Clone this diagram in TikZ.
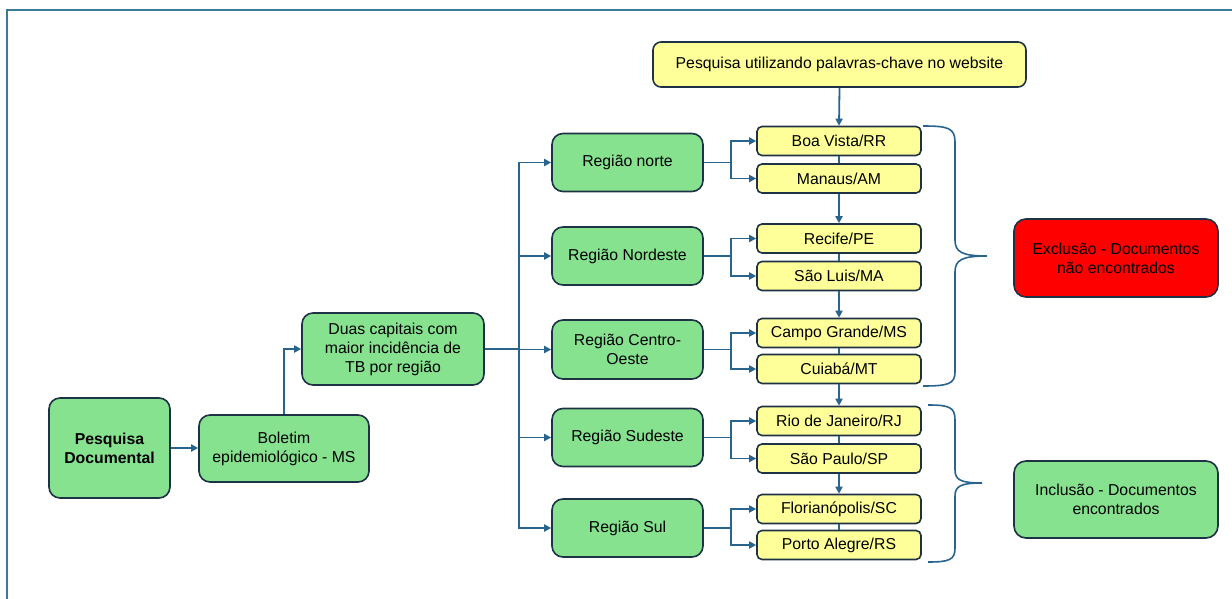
\documentclass[tikz,border=0pt]{standalone}
\usepackage{fontspec}
\setmainfont{Liberation Sans}
\usetikzlibrary{arrows.meta}
\definecolor{gfill}{RGB}{134,226,142}
\definecolor{yfill}{RGB}{255,255,153}
\definecolor{bord}{RGB}{30,50,70}
\definecolor{conncol}{RGB}{40,100,140}
\definecolor{framecol}{RGB}{60,122,148}
\begin{document}
\begin{tikzpicture}[x=1pt,y=-1pt,
 box/.style={draw=bord, line width=1.6pt, align=center, inner sep=0pt, font=\fontsize{15.8}{19}\selectfont, text=black},
 gbox/.style={box, fill=gfill, rounded corners=11pt},
 ybox/.style={box, fill=yfill, rounded corners=5pt, minimum width=164pt, minimum height=29pt},
 rbox/.style={gbox, minimum width=151pt, minimum height=58pt},
 ln/.style={draw=conncol, line width=1.8pt},
 arr/.style={ln, -{Triangle[length=7pt,width=7pt]}},
 brace/.style={draw=conncol, line width=1.6pt},
]
\useasboundingbox (0,0) rectangle (1232,599);
\draw[framecol, line width=2pt] (7,599) -- (7,10) -- (1232,10);

% left part
\node[gbox, minimum width=121pt, minimum height=100pt, font=\fontsize{15.8}{19}\selectfont\bfseries] (pd) at (109.5,448) {Pesquisa\\Documental};
\node[gbox, minimum width=170pt, minimum height=67pt] (bol) at (284,448.5) {Boletim\\epidemiológico - MS};
\node[gbox, minimum width=182pt, minimum height=72pt] (duas) at (393,349) {Duas capitais com\\maior incidência de\\TB por região};

% regions
\node[rbox] (norte) at (627.5,162.5) {Região norte};
\node[rbox] (nord) at (627.5,256) {Região Nordeste};
\node[rbox, minimum height=59pt] (cent) at (627.5,349.5) {Região Centro-\\Oeste};
\node[rbox] (sude) at (627.5,437.5) {Região Sudeste};
\node[rbox] (sul) at (627.5,528) {Região Sul};

% top
\node[box, fill=yfill, rounded corners=8pt, minimum width=373pt, minimum height=45pt] (top) at (839.5,64.5) {Pesquisa utilizando palavras-chave no website};

% cities
\node[ybox] (boa) at (839,141) {Boa Vista/RR};
\node[ybox] (man) at (839,178.5) {Manaus/AM};
\node[ybox] (rec) at (839,238.5) {Recife/PE};
\node[ybox] (slu) at (839,276) {São Luis/MA};
\node[ybox] (cgr) at (839,333) {Campo Grande/MS};
\node[ybox] (cui) at (839,369) {Cuiabá/MT};
\node[ybox] (rio) at (839,421) {Rio de Janeiro/RJ};
\node[ybox] (sp) at (839,458.5) {São Paulo/SP};
\node[ybox] (flo) at (839,509) {Florianópolis/SC};
\node[ybox] (poa) at (839,545) {Porto Alegre/RS};

% outcome boxes
\node[box, fill=red, rounded corners=12pt, minimum width=204pt, minimum height=78pt] (exc) at (1116,258) {Exclusão - Documentos\\não encontrados};
\node[gbox, rounded corners=12pt, minimum width=204pt, minimum height=77pt] (inc) at (1116,499.5) {Inclusão - Documentos\\encontrados};

% connectors left
\draw[arr] (pd.east) -- (pd.east -| bol.west);
\draw[arr] (bol.north) |- (duas.west);
\draw[ln] (duas.east) -- ++(34,0) coordinate (tr);
\draw[arr] (tr) |- (norte.west);
\draw[arr] (tr) |- (nord.west);
\draw[arr] (tr) |- (cent.west);
\draw[arr] (tr) |- (sude.west);
\draw[arr] (tr) |- (sul.west);

% regions to cities
\foreach \r/\a/\b in {norte/boa/man, nord/rec/slu, cent/cgr/cui, sude/rio/sp, sul/flo/poa}{
  \draw[ln] (\r.east) -- ++(27,0) coordinate (br);
  \draw[arr] (br) |- (\a.west);
  \draw[arr] (br) |- (\b.west);
}

% vertical chain
\draw[arr] (top.south) -- (boa.north);
\draw[ln] (boa.south) -- (man.north);
\draw[arr] (man.south) -- (rec.north);
\draw[ln] (rec.south) -- (slu.north);
\draw[arr] (slu.south) -- (cgr.north);
\draw[ln] (cgr.south) -- (cui.north);
\draw[arr] (cui.south) -- (rio.north);
\draw[ln] (rio.south) -- (sp.north);
\draw[arr] (sp.south) -- (flo.north);
\draw[ln] (flo.south) -- (poa.north);

% braces
\draw[brace] (923,126) .. controls (948,126) and (955,128) .. (955,142) -- (955,240)
  .. controls (955,252) and (962,256) .. (987,256)
  .. controls (962,256) and (955,260) .. (955,272) -- (955,372)
  .. controls (955,384) and (948,386) .. (923,386);
\draw[brace] (928,405) .. controls (949,405) and (955,407) .. (955,420) -- (955,470)
  .. controls (955,480) and (961,483) .. (982,483)
  .. controls (961,483) and (955,486) .. (955,496) -- (955,548)
  .. controls (955,560) and (949,562) .. (928,562);
\end{tikzpicture}
\end{document}
